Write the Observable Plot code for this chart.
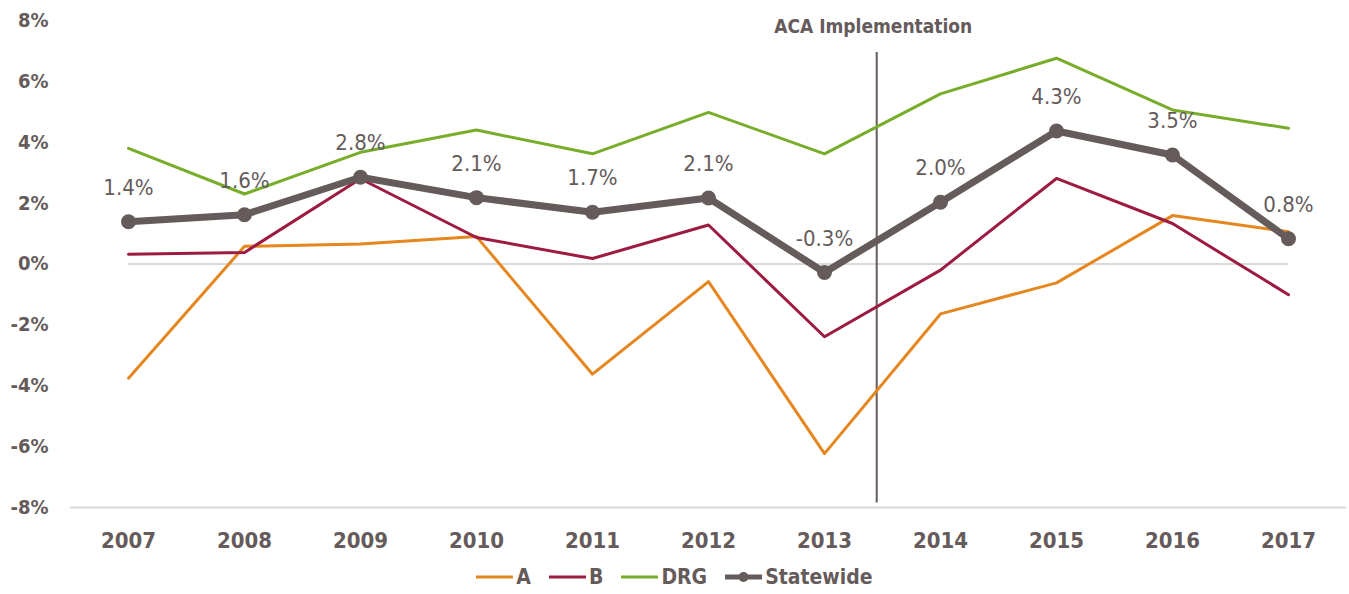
<!DOCTYPE html>
<html>
<head>
<meta charset="utf-8">
<script src="https://cdn.jsdelivr.net/npm/d3@7"></script>
<script src="https://cdn.jsdelivr.net/npm/@observablehq/plot@0.6"></script>
<style>
  body { margin: 0; background: #fff; font-family: "DejaVu Sans Condensed", "DejaVu Sans", sans-serif; }
  #chart svg { display: block; }
  g[aria-label="aca-label"] text { filter: drop-shadow(1px 1px 1px rgba(0,0,0,0.35)); }
  #legend { display: flex; justify-content: center; align-items: center; height: 34px; color: #655b5b;
            font-weight: bold; font-size: 21px; font-family: "DejaVu Sans Condensed", "DejaVu Sans", sans-serif; }
  .item { display: flex; align-items: center; margin: 0 9px; }
  .item svg { margin-right: 3px; }
</style>
</head>
<body>
<div id="chart"></div>
<div id="legend"></div>
<script>
const years = [2007, 2008, 2009, 2010, 2011, 2012, 2013, 2014, 2015, 2016, 2017];
const seriesA   = [-3.75, 0.58, 0.66, 0.90, -3.62, -0.58, -6.23, -1.64, -0.62, 1.59, 1.06];
const seriesB   = [0.32, 0.38, 2.80, 0.87, 0.18, 1.28, -2.39, -0.20, 2.81, 1.33, -1.01];
const seriesDRG = [3.80, 2.30, 3.67, 4.40, 3.62, 4.98, 3.62, 5.59, 6.76, 5.06, 4.46];
const statewide = [1.39, 1.62, 2.85, 2.18, 1.70, 2.17, -0.28, 2.03, 4.37, 3.58, 0.83];
const statewideLabels = ["1.4%", "1.6%", "2.8%", "2.1%", "1.7%", "2.1%", "-0.3%", "2.0%", "4.3%", "3.5%", "0.8%"];
const yTicks = [-8, -6, -4, -2, 0, 2, 4, 6, 8];
const seriesNames = ["A", "B", "DRG", "Statewide"];
const colors = { A: "#e5861f", B: "#9d1b41", DRG: "#78ad2b", Statewide: "#655b5b" };
const acaYear = 2013.45;
const acaSpan = [6.95, -7.85];
const acaLabelY = 7.78;
const acaLabel = "ACA Implementation";

const gray = "#655b5b";
const mk = (name, vals) => years.map((y, i) => ({ year: y, value: vals[i], series: name }));
const dataA = mk("A", seriesA), dataB = mk("B", seriesB), dataD = mk("DRG", seriesDRG);
const dataS = years.map((y, i) => ({ year: y, value: statewide[i], label: statewideLabels[i], series: "Statewide" }));

const chart = Plot.plot({
  width: 1349,
  height: 560,
  marginLeft: 70,
  marginRight: 3,
  marginTop: 20,
  marginBottom: 53,
  style: { fontFamily: '"DejaVu Sans Condensed", "DejaVu Sans", sans-serif', background: "#fff" },
  x: { domain: [2006.5, 2017.5] },
  y: { domain: [-8, 8] },
  marks: [
    Plot.ruleY([-8], { stroke: "#d9d9d9", strokeWidth: 2 }),
    Plot.ruleY([0], { x1: years[0], x2: years[years.length - 1], stroke: "#d9d9d9", strokeWidth: 2 }),
    Plot.axisY(yTicks, { label: null, tickSize: 0, tickPadding: 22, tickFormat: d => d + "%", fontSize: 20, fontWeight: "bold", fill: gray }),
    Plot.axisX(years, { label: null, tickSize: 0, tickPadding: 25, tickFormat: d => String(d), fontSize: 22, fontWeight: "bold", fill: gray }),
    Plot.ruleX([acaYear], { y1: acaSpan[0], y2: acaSpan[1], stroke: gray, strokeWidth: 2 }),
    Plot.text([acaLabel], { x: acaYear - 0.03, y: acaLabelY, text: d => d, fontSize: 19, fontWeight: "bold", fill: gray, ariaLabel: "aca-label" }),
    Plot.line(dataA, { x: "year", y: "value", stroke: colors.A, strokeWidth: 3 }),
    Plot.line(dataB, { x: "year", y: "value", stroke: colors.B, strokeWidth: 3 }),
    Plot.line(dataD, { x: "year", y: "value", stroke: colors.DRG, strokeWidth: 3 }),
    Plot.line(dataS, { x: "year", y: "value", stroke: colors.Statewide, strokeWidth: 7 }),
    Plot.dot(dataS, { x: "year", y: "value", r: 7.5, fill: colors.Statewide }),
    Plot.text(dataS, { x: "year", y: "value", text: "label", dy: -34, fontSize: 22, fill: gray })
  ]
});
document.getElementById("chart").appendChild(chart);

const legend = document.getElementById("legend");
for (const name of seriesNames) {
  const item = document.createElement("div");
  item.className = "item";
  const isS = name === "Statewide";
  item.innerHTML = `<svg width="37" height="20"><line x1="0" y1="10" x2="37" y2="10" stroke="${colors[name]}" stroke-width="${isS ? 5 : 3}"/>${isS ? `<circle cx="18.5" cy="10" r="5" fill="${colors[name]}"/>` : ""}</svg><span>${name}</span>`;
  legend.appendChild(item);
}
</script>
</body>
</html>
